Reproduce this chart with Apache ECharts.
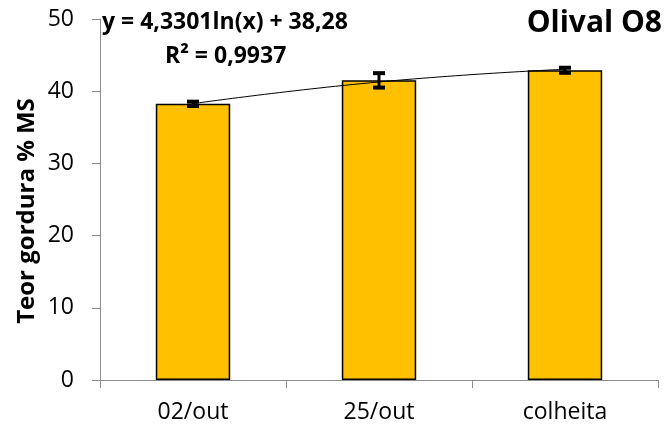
<!DOCTYPE html>
<html><head><meta charset="utf-8">
<script src="https://cdn.jsdelivr.net/npm/echarts@6/dist/echarts.min.js"></script>
<style>html,body{margin:0;padding:0;background:#fff}#c{width:666px;height:432px}</style>
</head><body><div id="c"></div>
<script>
const categories = ['02/out', '25/out', 'colheita'];
const fatValues = [38.25, 41.5, 42.9];
const fatErrors = [0.3, 1.0, 0.35];
const trendValues = [38.28, 41.28, 43.04];
const yTicks = [0, 10, 20, 30, 40, 50];
const equationText = 'y = 4,3301ln(x) + 38,28';
const r2Text = 'R² = 0,9937';
const titleText = 'Olival O8';
const yAxisTitle = 'Teor gordura % MS';

const FONT = '"Open Sans", sans-serif';
const chart = echarts.init(document.getElementById('c'), null, {renderer: 'canvas'});
chart.setOption({
  animation: false,
  backgroundColor: '#fff',
  grid: {left: 100, right: 8, top: 19, bottom: 52, containLabel: false},
  graphic: [
    {type: 'text', x: 102, y: 22, z: 10, style: {text: equationText, font: 'bold 23px ' + FONT, fill: '#000', align: 'left', verticalAlign: 'middle'}},
    {type: 'text', x: 165, y: 56, z: 10, style: {text: r2Text, font: 'bold 23px ' + FONT, fill: '#000', align: 'left', verticalAlign: 'middle'}},
    {type: 'text', x: 662, y: 23, z: 10, style: {text: titleText, font: 'bold 30px ' + FONT, fill: '#000', align: 'right', verticalAlign: 'middle'}},
    {type: 'text', x: 27, y: 211, rotation: Math.PI / 2, z: 10, style: {text: yAxisTitle, font: 'bold 24px ' + FONT, fill: '#000', align: 'center', verticalAlign: 'middle'}}
  ],
  xAxis: {
    type: 'category', data: categories,
    axisLine: {lineStyle: {color: '#8c8c8c', width: 1}},
    axisTick: {show: true, inside: false, length: 8, lineStyle: {color: '#8c8c8c'}},
    axisLabel: {color: '#000', fontSize: 23, fontFamily: FONT, margin: 21}
  },
  yAxis: {
    type: 'value', min: yTicks[0], max: yTicks[yTicks.length - 1], interval: 10,
    axisLine: {show: true, lineStyle: {color: '#8c8c8c', width: 1}},
    axisTick: {show: true, inside: false, length: 8, lineStyle: {color: '#8c8c8c'}},
    axisLabel: {color: '#000', fontSize: 23, fontFamily: FONT, margin: 26},
    splitLine: {show: false}
  },
  series: [
    {
      type: 'bar', data: fatValues, barWidth: '40%',
      itemStyle: {color: '#FFC000', borderColor: '#000', borderWidth: 1.5}
    },
    {
      type: 'line', data: trendValues, smooth: true, symbol: 'none', z: 4,
      lineStyle: {color: '#000', width: 1}
    },
    {
      type: 'custom', z: 5,
      data: fatValues.map((v, i) => [i, v - fatErrors[i], v + fatErrors[i]]),
      renderItem: function (params, api) {
        const x = api.value(0);
        const lo = api.coord([x, api.value(1)]);
        const hi = api.coord([x, api.value(2)]);
        const hw = 6;
        const st = {stroke: '#000', lineWidth: 3};
        const cst = {stroke: '#000', lineWidth: 4};
        return {type: 'group', children: [
          {type: 'line', shape: {x1: lo[0], y1: lo[1], x2: hi[0], y2: hi[1]}, style: st},
          {type: 'line', shape: {x1: lo[0] - hw, y1: lo[1], x2: lo[0] + hw, y2: lo[1]}, style: cst},
          {type: 'line', shape: {x1: hi[0] - hw, y1: hi[1], x2: hi[0] + hw, y2: hi[1]}, style: cst}
        ]};
      }
    }
  ]
});
</script></body></html>
